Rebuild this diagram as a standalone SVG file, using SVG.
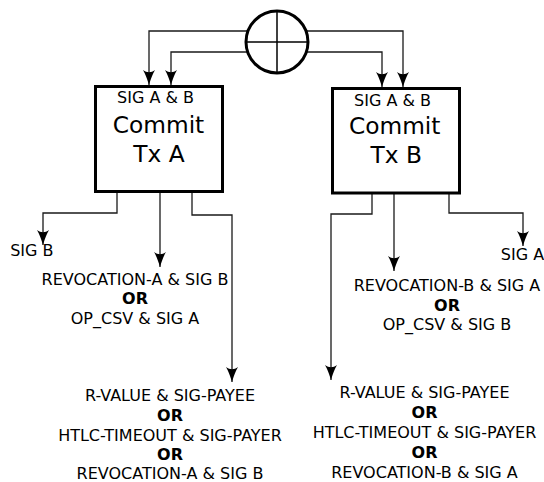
<svg xmlns="http://www.w3.org/2000/svg" width="544" height="482" viewBox="0 0 544 482">
<style>
.box{fill:#fff;stroke:#000;stroke-width:3}
.ln{fill:none;stroke:#1a1a1a;stroke-width:1.3}
.t{font-family:"DejaVu Sans",sans-serif;font-size:16px;fill:#000;text-anchor:middle}
.b{font-weight:bold}
.big{font-family:"DejaVu Sans",sans-serif;font-size:23.3px;fill:#000;text-anchor:middle}
</style>
<defs>
<marker id="arr" markerUnits="userSpaceOnUse" markerWidth="20" markerHeight="14" refX="0" refY="0" viewBox="-16 -7 18 14" orient="auto" overflow="visible">
<path d="M0,0 C-4,-1.2 -11,-3.5 -15,-6 C-12,-2 -12,2 -15,6 C-11,3.5 -4,1.2 0,0 Z" fill="#000"/>
</marker>
</defs>
<g id="connectors">
<path class="ln" d="M247,31 H149 V85" marker-end="url(#arr)"/>
<path class="ln" d="M247,52 H171 V85" marker-end="url(#arr)"/>
<path class="ln" d="M307,31 H403 V87" marker-end="url(#arr)"/>
<path class="ln" d="M307,52 H382 V87" marker-end="url(#arr)"/>
<path class="ln" d="M117,193 V213 H43 V245" marker-end="url(#arr)"/>
<path class="ln" d="M160,193 V267" marker-end="url(#arr)"/>
<path class="ln" d="M192,193 V215 H232 V382" marker-end="url(#arr)"/>
<path class="ln" d="M372,194 V214 H331 V380" marker-end="url(#arr)"/>
<path class="ln" d="M394,194 V271" marker-end="url(#arr)"/>
<path class="ln" d="M449,194 V213 H523 V246" marker-end="url(#arr)"/>
</g>
<g id="combiner">
<circle cx="277" cy="42" r="31" fill="#fff" stroke="#000" stroke-width="3"/>
<line x1="277" y1="11" x2="277" y2="73" stroke="#000" stroke-width="1.5"/>
<line x1="246" y1="42" x2="308" y2="42" stroke="#000" stroke-width="1.5"/>
</g>
<g id="commitA">
<rect class="box" x="95.5" y="86.5" width="127" height="105"/>
<text class="t" x="155.5" y="103.3">SIG A &amp; B</text>
<text class="big" x="158.5" y="133.3">Commit</text>
<text class="big" x="159" y="161.7">Tx A</text>
</g>
<g id="commitB">
<rect class="box" x="332.5" y="88.5" width="127" height="104.5"/>
<text class="t" x="392.5" y="106">SIG A &amp; B</text>
<text class="big" x="394.7" y="134">Commit</text>
<text class="big" x="396.3" y="163.3">Tx B</text>
</g>
<g id="outA1">
<text class="t" x="31.8" y="255.7">SIG B</text>
</g>
<g id="outA2">
<text class="t" x="135" y="285">REVOCATION-A &amp; SIG B</text>
<text class="t b" x="135" y="304.3">OR</text>
<text class="t" x="135" y="324.3">OP_CSV &amp; SIG A</text>
</g>
<g id="outA3">
<text class="t" x="170" y="401">R-VALUE &amp; SIG-PAYEE</text>
<text class="t b" x="170" y="420.7">OR</text>
<text class="t" x="170" y="440.5">HTLC-TIMEOUT &amp; SIG-PAYER</text>
<text class="t b" x="170" y="460">OR</text>
<text class="t" x="170" y="479">REVOCATION-A &amp; SIG B</text>
</g>
<g id="outB1">
<text class="t" x="522.5" y="260">SIG A</text>
</g>
<g id="outB2">
<text class="t" x="447" y="291">REVOCATION-B &amp; SIG A</text>
<text class="t b" x="447" y="310.7">OR</text>
<text class="t" x="447" y="330">OP_CSV &amp; SIG B</text>
</g>
<g id="outB3">
<text class="t" x="424.5" y="398.3">R-VALUE &amp; SIG-PAYEE</text>
<text class="t b" x="424.5" y="418.3">OR</text>
<text class="t" x="424.5" y="438.3">HTLC-TIMEOUT &amp; SIG-PAYER</text>
<text class="t b" x="424.5" y="458.3">OR</text>
<text class="t" x="424.5" y="478.3">REVOCATION-B &amp; SIG A</text>
</g>
</svg>
